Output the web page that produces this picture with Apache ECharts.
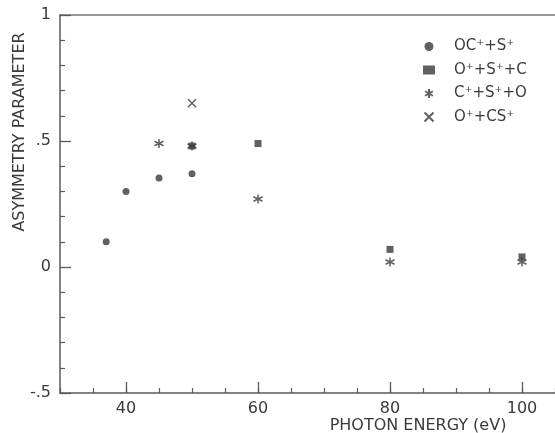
<!DOCTYPE html>
<html>
<head>
<meta charset="utf-8">
<script src="https://cdn.jsdelivr.net/npm/echarts@6/dist/echarts.min.js"></script>
<style>html,body{margin:0;padding:0;background:#fff}#c{width:555px;height:433px}</style>
</head>
<body>
<div id="c"></div>
<script>
// Data (photon energy in eV, asymmetry parameter)
const seriesNames = ['OC\u207A+S\u207A', 'O\u207A+S\u207A+C', 'C\u207A+S\u207A+O', 'O\u207A+CS\u207A'];
const ocS = [[37, 0.10], [40, 0.30], [45, 0.353], [50, 0.37]];
const oSC = [[50, 0.48], [60, 0.49], [80, 0.07], [100, 0.04]];
const cSO = [[45, 0.49], [50, 0.48], [60, 0.27], [80, 0.02], [100, 0.02]];
const oCS = [[50, 0.65]];
const xMajorTicks = [40, 60, 80, 100];
const yTickLabels = {'1': '1', '0.5': '.5', '0': '0', '-0.5': '-.5'};

const ink = '#3a3a3a';
const axisCol = '#5a5a5a';
const font = 'DejaVu Sans';
const asterisk = 'path://M5,0L5,10M0.67,2.5L9.33,7.5M0.67,7.5L9.33,2.5';
const cross = 'path://M0,0L10,10M0,10L10,0';

const chart = echarts.init(document.getElementById('c'), null, {renderer: 'canvas'});
chart.setOption({
  animation: false,
  backgroundColor: '#fff',
  grid: {left: 60, top: 15, width: 498, height: 378, containLabel: false},
  legend: {
    orient: 'vertical', left: 418, top: 34, itemGap: 8.5, itemWidth: 12, itemHeight: 9,
    textStyle: {fontFamily: font, fontSize: 15, color: ink, padding: [0, 0, 0, 14]},
    data: seriesNames
  },
  xAxis: [
    {type: 'value', min: 30, max: 105, position: 'bottom',
     axisLine: {show: true, onZero: false, lineStyle: {color: axisCol, width: 1.5}},
     axisTick: {show: true, inside: true, length: 11, customValues: xMajorTicks, lineStyle: {color: axisCol, width: 1.3}},
     axisLabel: {show: true, customValues: xMajorTicks, margin: 8, fontFamily: font, fontSize: 16, color: ink},
     splitLine: {show: false}},
    {type: 'value', min: 30, max: 105, interval: 5, position: 'bottom',
     axisLine: {show: false, onZero: false},
     axisTick: {show: true, inside: true, length: 5, lineStyle: {color: axisCol, width: 1.2}},
     axisLabel: {show: false}, splitLine: {show: false}},
    {type: 'value', min: 30, max: 105, position: 'top',
     axisLine: {show: true, onZero: false, lineStyle: {color: '#777', width: 1.5}},
     axisTick: {show: false}, axisLabel: {show: false}, splitLine: {show: false}}
  ],
  yAxis: [
    {type: 'value', min: -0.5, max: 1, interval: 0.5,
     axisLine: {show: true, onZero: false, lineStyle: {color: axisCol, width: 1.5}},
     axisTick: {show: true, inside: true, length: 11, lineStyle: {color: axisCol, width: 1.3}},
     minorTick: {show: true, splitNumber: 5, length: 5, lineStyle: {color: axisCol, width: 1.2}},
     axisLabel: {margin: 9, fontFamily: font, fontSize: 16, color: ink,
       formatter: v => yTickLabels[String(v)] !== undefined ? yTickLabels[String(v)] : ''},
     splitLine: {show: false}}
  ],
  graphic: [
    {type: 'text', x: 20, y: 132, rotation: Math.PI / 2,
     style: {text: 'ASYMMETRY PARAMETER', fontFamily: font, fontSize: 16, fill: ink,
             textAlign: 'center', textVerticalAlign: 'middle'}},
    {type: 'text', x: 418, y: 426,
     style: {text: 'PHOTON ENERGY (eV)', fontFamily: font, fontSize: 16, fill: ink,
             textAlign: 'center', textVerticalAlign: 'middle'}}
  ],
  series: [
    {name: seriesNames[0], type: 'scatter', data: ocS, symbol: 'circle', symbolSize: 7,
     itemStyle: {color: ink}},
    {name: seriesNames[1], type: 'scatter', data: oSC, symbol: 'rect', symbolSize: 7,
     itemStyle: {color: ink}},
    {name: seriesNames[2], type: 'scatter', data: cSO, symbol: asterisk, symbolSize: 9,
     itemStyle: {color: 'rgba(0,0,0,0)', borderColor: ink, borderWidth: 1.5}},
    {name: seriesNames[3], type: 'scatter', data: oCS, symbol: cross, symbolSize: 8,
     itemStyle: {color: 'rgba(0,0,0,0)', borderColor: ink, borderWidth: 1.5}}
  ]
});
</script>
</body>
</html>
